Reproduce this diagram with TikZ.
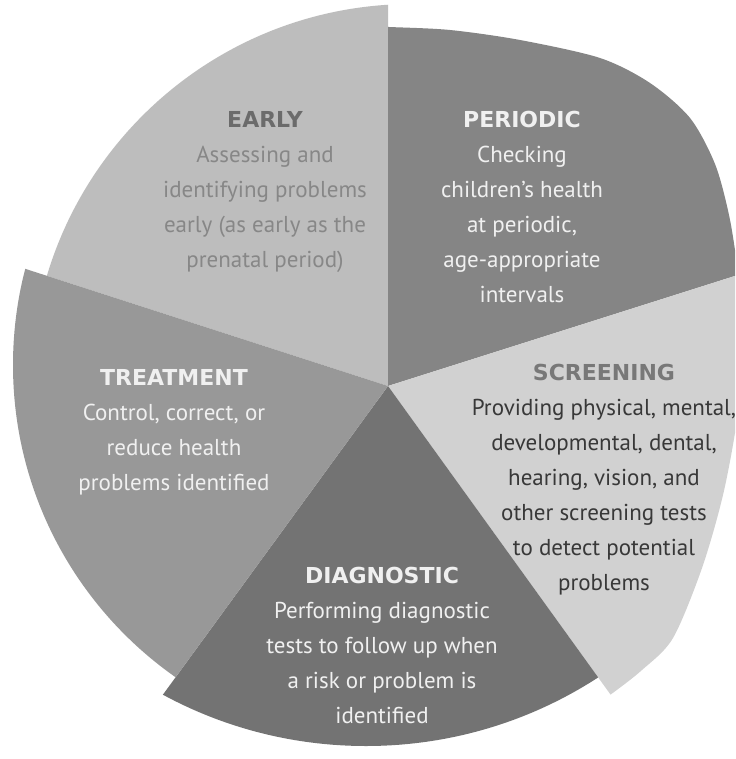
\documentclass[tikz,border=0pt]{standalone}
\usepackage{fontspec}
\setmainfont{PT Sans}
\newfontfamily\headfont{DejaVu Sans}
\begin{document}
\begin{tikzpicture}[x=1pt,y=1pt,
  lbl/.style={inner sep=0pt, anchor=north, align=center, font=\fontsize{23}{35}\selectfont},
]
\definecolor{earlyfill}{gray}{0.74}
\definecolor{periodicfill}{gray}{0.52}
\definecolor{screenfill}{gray}{0.82}
\definecolor{treatfill}{gray}{0.595}
\definecolor{diagfill}{gray}{0.45}
\definecolor{earlyhead}{gray}{0.42}
\definecolor{earlytext}{gray}{0.53}
\definecolor{lighttext}{gray}{0.94}
\definecolor{screenhead}{gray}{0.47}
\definecolor{screentext}{gray}{0.22}
\newcommand\hd[1]{{\headfont\fontsize{22}{35}\selectfont\bfseries #1}}
\useasboundingbox (0,0) rectangle (735,-759);
\clip (0,0) rectangle (735,-759);
\fill[white] (0,0) rectangle (735,-759);
\coordinate (C) at (388,-386);
% EARLY
\begin{scope}
  \clip (C) -- +(90:1200) -- +(162.1:1200) -- cycle;
  \fill[earlyfill] (412,-385) circle[radius=381];
\end{scope}
% PERIODIC
\begin{scope}
  \clip (C) -- +(17.6:1200) -- +(90:1200) -- cycle;
  \fill[periodicfill] (C) -- plot[smooth] coordinates {(360,-26) (389,-27) (450,-30) (520,-40) (600,-58) (650,-83) (690,-118) (715,-164) (729,-215) (737,-265) (741,-310)} -- cycle;
\end{scope}
% SCREENING
\begin{scope}
  \clip (C) -- +(-54.2:1200) -- +(17.6:1200) -- cycle;
  \fill[screenfill] (C) -- plot[smooth] coordinates {(760,-200) (752,-270) (745,-345) (737,-420) (723,-495) (702,-568) (673,-638) (642,-670) (610,-695) (585,-712)} -- cycle;
\end{scope}
% DIAGNOSTIC
\begin{scope}
  \clip (C) -- +(233.9:1200) -- +(-54.2:1200) -- cycle;
  \fill[diagfill] (366,-319) circle[radius=427];
\end{scope}
% TREATMENT
\begin{scope}
  \clip (C) -- +(162.1:1200) -- +(233.9:1200) -- cycle;
  \fill[treatfill] (394,-365) circle[radius=381];
\end{scope}
% labels
\node[lbl, text=earlytext] (early) at (265,-111) {{\color{earlyhead}\hd{EARLY}}\\Assessing and\\identifying problems\\early (as early as the\\prenatal period)};
\node[lbl, text=lighttext] (periodic) at (522,-111) {\hd{PERIODIC}\\Checking\\children’s health\\at periodic,\\age-appropriate\\intervals};
\node[lbl, text=screentext] (screening) at (604,-364) {{\color{screenhead}\hd{SCREENING}}\\Providing physical, mental,\\developmental, dental,\\hearing, vision, and\\other screening tests\\to detect potential\\problems};
\node[lbl, text=lighttext] (treatment) at (174,-369) {\hd{TREATMENT}\\Control, correct, or\\reduce health\\problems identified};
\node[lbl, text=lighttext] (diagnostic) at (382,-567) {\hd{DIAGNOSTIC}\\Performing diagnostic\\tests to follow up when\\a risk or problem is\\identified};
\end{tikzpicture}
\end{document}
